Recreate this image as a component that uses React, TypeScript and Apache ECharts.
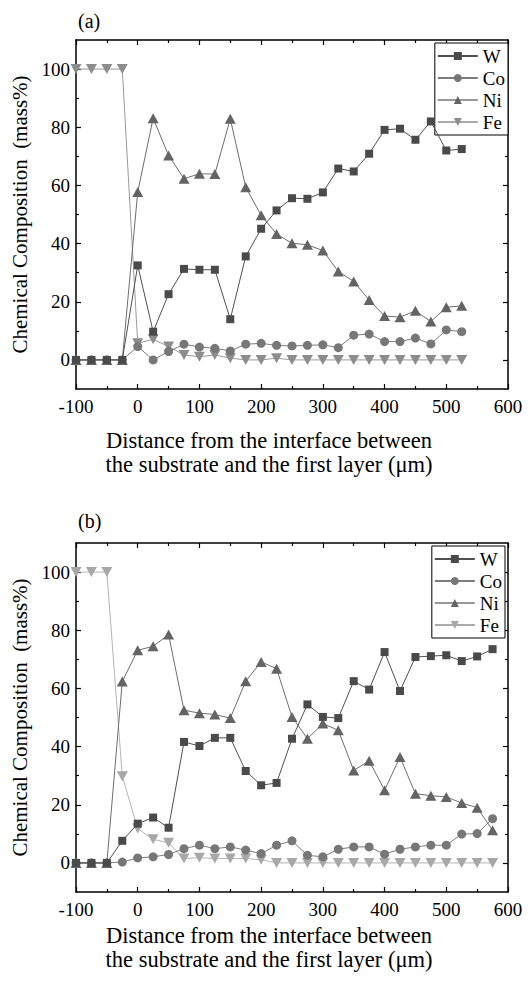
import React, { useEffect, useRef } from "react";
import * as echarts from "echarts";

// ---- data: chart (a) ----
const xA = [-100, -75, -50, -25, 0, 25, 50, 75, 100, 125, 150, 175, 200, 225, 250, 275, 300, 325, 350, 375, 400, 425, 450, 475, 500, 525];
const wA = [0, 0, 0, 0, 32.5, 9.7, 22.6, 31.3, 31, 31, 14, 35.6, 45.1, 51.4, 55.6, 55.4, 57.6, 65.8, 64.8, 70.9, 79.1, 79.5, 75.7, 82, 72, 72.5];
const coA = [0, 0, 0, 0, 4.6, 0, 2.9, 5.4, 4.4, 4.0, 3.1, 5.4, 5.7, 5.0, 4.8, 5.0, 5.2, 4.2, 8.5, 8.9, 6.3, 6.3, 7.5, 5.5, 10.3, 9.7];
const niA = [0, 0, 0, 0, 57.7, 83.1, 70.3, 62.3, 64, 63.9, 82.9, 59.4, 49.7, 43.3, 40.1, 39.6, 37.6, 30.4, 27, 20.6, 15.1, 14.7, 16.9, 13.2, 18.1, 18.6];
const feA = [100, 100, 100, 100, 5.7, 7.1, 4.6, 1.7, 1.1, 1.7, 0.6, 0, 0, 0.6, 0, 0, 0, 0, 0, 0, 0, 0, 0, 0, 0, 0];

// ---- data: chart (b) ----
const xB = [-100, -75, -50, -25, 0, 25, 50, 75, 100, 125, 150, 175, 200, 225, 250, 275, 300, 325, 350, 375, 400, 425, 450, 475, 500, 525, 550, 575];
const wB = [0, 0, 0, 7.6, 13.5, 15.6, 12.1, 41.6, 40.2, 43, 43, 31.6, 26.7, 27.5, 42.7, 54.5, 50.2, 49.8, 62.5, 59.6, 72.5, 59.1, 70.8, 71.1, 71.4, 69.4, 71, 73.5];
const coB = [0, 0, 0, 0.3, 1.7, 2.1, 2.9, 4.9, 6.1, 4.9, 5.5, 4.4, 3.2, 6.1, 7.6, 2.6, 2.1, 4.7, 5.5, 5.5, 3, 4.7, 5.5, 6.1, 6.1, 9.9, 10.1, 15.2];
const niB = [0, 0, 0, 62.4, 73.1, 74.5, 78.5, 52.5, 51.5, 51, 49.8, 62.5, 69.1, 66.8, 50.2, 42.7, 47.9, 45.6, 31.8, 35.1, 25, 36.4, 23.8, 23.1, 22.7, 20.6, 19, 11.2];
const feB = [100, 100, 100, 29.8, 11.8, 8.1, 6.9, 1.5, 1.8, 1.5, 1.5, 1.5, 1.1, 0, 0, 0, 0, 0, 0, 0, 0, 0, 0, 0, 0, 0, 0, 0];

// ---- axis ticks / labels ----
const yMajor = [0, 20, 40, 60, 80, 100];
const yMinor = [10, 30, 50, 70, 90];
const seriesNames = ["W", "Co", "Ni", "Fe"];
const panelTitles = ["(a)", "(b)"];
const xName = "Distance from the interface between\nthe substrate and the first layer (μm)";
const yName = "Chemical Composition  (mass%)";

const FONT = "Liberation Serif, Times New Roman, serif";
const DOWN_TRI = "path://M0,0 L10,0 L5,8.7 Z";

const pair = (xs: number[], ys: number[]) => xs.map((x, i) => [x, ys[i]]);

export default function App() {
  const ref = useRef<HTMLDivElement>(null);
  useEffect(() => {
    if (!ref.current) return;
    const chart = echarts.init(ref.current, undefined, { renderer: "svg" });

    const grids = [
      { left: 76, top: 40, width: 432, height: 349 },
      { left: 76, top: 543, width: 432, height: 349 },
    ];
    const nameGapX = [39, 31];

    const xAxes: any[] = [];
    const yAxes: any[] = [];
    const series: any[] = [];

    const axisLine = { show: true, onZero: false, lineStyle: { color: "#000", width: 1.5 } };
    const noLine = { show: false, onZero: false };

    grids.forEach((_, g) => {
      const baseX = {
        type: "value",
        gridIndex: g,
        min: -100,
        max: 600,
        interval: 100,
        axisLine,
        axisTick: { show: true, inside: true, length: 5, lineStyle: { color: "#000", width: 1.2 } },
        minorTick: { show: true, splitNumber: 2, length: 3, lineStyle: { color: "#000", width: 1.2 } },
        splitLine: { show: false },
        minorSplitLine: { show: false },
      };
      xAxes.push({
        ...baseX,
        position: "bottom",
        axisLabel: { show: true, color: "#000", fontFamily: FONT, fontSize: 19, margin: 8 },
        name: xName,
        nameLocation: "middle",
        nameGap: nameGapX[g],
        nameTextStyle: {
          color: "#000",
          fontFamily: FONT,
          fontSize: 22.5,
          lineHeight: 24,
          verticalAlign: "top",
          padding: [0, 46, 0, 0],
        },
      });
      xAxes.push({ ...baseX, position: "top", axisLabel: { show: false } });

      const baseY = {
        type: "value",
        gridIndex: g,
        min: -10,
        max: 110,
        splitLine: { show: false },
      };
      yAxes.push({
        ...baseY,
        position: "left",
        axisLine,
        axisTick: { show: true, inside: true, length: 5, customValues: yMajor, lineStyle: { color: "#000", width: 1.2 } },
        axisLabel: { show: true, customValues: yMajor, color: "#000", fontFamily: FONT, fontSize: 19, margin: 6 },
        name: yName,
        nameLocation: "middle",
        nameGap: 40,
        nameTextStyle: { color: "#000", fontFamily: FONT, fontSize: 21 },
      });
      yAxes.push({
        ...baseY,
        position: "left",
        axisLine: noLine,
        axisTick: { show: true, inside: true, length: 3, customValues: yMinor, lineStyle: { color: "#000", width: 1.2 } },
        axisLabel: { show: false },
      });
      yAxes.push({
        ...baseY,
        position: "right",
        axisLine,
        axisTick: { show: true, inside: true, length: 5, customValues: yMajor, lineStyle: { color: "#000", width: 1.2 } },
        axisLabel: { show: false },
      });
      yAxes.push({
        ...baseY,
        position: "right",
        axisLine: noLine,
        axisTick: { show: true, inside: true, length: 3, customValues: yMinor, lineStyle: { color: "#000", width: 1.2 } },
        axisLabel: { show: false },
      });
    });

    const panels = [
      { xs: xA, w: wA, co: coA, ni: niA, fe: feA, feColor: "#8c8c8c", feLine: "#9a9a9a" },
      { xs: xB, w: wB, co: coB, ni: niB, fe: feB, feColor: "#a8a8a8", feLine: "#b4b4b4" },
    ];

    panels.forEach((p, g) => {
      const common = {
        type: "line",
        xAxisIndex: 2 * g,
        yAxisIndex: 4 * g,
        symbolSize: 9,
        showSymbol: true,
        silent: true,
      };
      series.push({
        ...common,
        name: "Fe",
        data: pair(p.xs, p.fe),
        symbol: DOWN_TRI,
        symbolSize: [11, 10],
        itemStyle: { color: p.feColor },
        lineStyle: { color: p.feLine, width: 1 },
        z: 2,
      });
      series.push({
        ...common,
        name: "Ni",
        data: pair(p.xs, p.ni),
        symbol: "triangle",
        symbolSize: [11, 10],
        itemStyle: { color: "#646464" },
        lineStyle: { color: "#6e6e6e", width: 1 },
        z: 3,
      });
      series.push({
        ...common,
        name: "Co",
        data: pair(p.xs, p.co),
        symbol: "circle",
        itemStyle: { color: "#777777" },
        lineStyle: { color: "#7c7c7c", width: 1 },
        z: 4,
      });
      series.push({
        ...common,
        name: "W",
        data: pair(p.xs, p.w),
        symbol: "rect",
        symbolSize: 8,
        itemStyle: { color: "#4a4a4a" },
        lineStyle: { color: "#505050", width: 1 },
        z: 5,
      });
    });

    const legendBase = {
      orient: "vertical",
      backgroundColor: "#fff",
      borderColor: "#000",
      borderWidth: 1,
      borderRadius: 0,
      padding: [3, 3, 3, 2],
      itemWidth: 40,
      itemHeight: 10,
      itemGap: 2,
      selectedMode: false,
      textStyle: { color: "#000", fontFamily: FONT, fontSize: 19, lineHeight: 20 },
    };
    const legendData = (feC: string) =>
      seriesNames.map((n) =>
        n === "Fe"
          ? { name: n, itemStyle: { color: feC }, lineStyle: { color: "#aaaaaa" } }
          : n === "Ni"
          ? { name: n, lineStyle: { color: "#999999" } }
          : { name: n }
      );

    chart.setOption({
      animation: false,
      backgroundColor: "#fff",
      title: panelTitles.map((t, i) => ({
        text: t,
        left: 78,
        top: i === 0 ? 11 : 511,
        padding: 0,
        textStyle: { color: "#000", fontFamily: FONT, fontSize: 20, fontWeight: "normal" },
      })),
      grid: grids,
      xAxis: xAxes,
      yAxis: yAxes,
      legend: [
        { ...legendBase, right: 21, top: 43, data: legendData("#8c8c8c") },
        { ...legendBase, right: 24, top: 546, data: legendData("#a8a8a8") },
      ],
      series,
    });

    return () => chart.dispose();
  }, []);

  return (
    <div
      ref={ref}
      style={{ position: "fixed", left: 0, top: 0, width: 529, height: 983, background: "#fff" }}
    />
  );
}
